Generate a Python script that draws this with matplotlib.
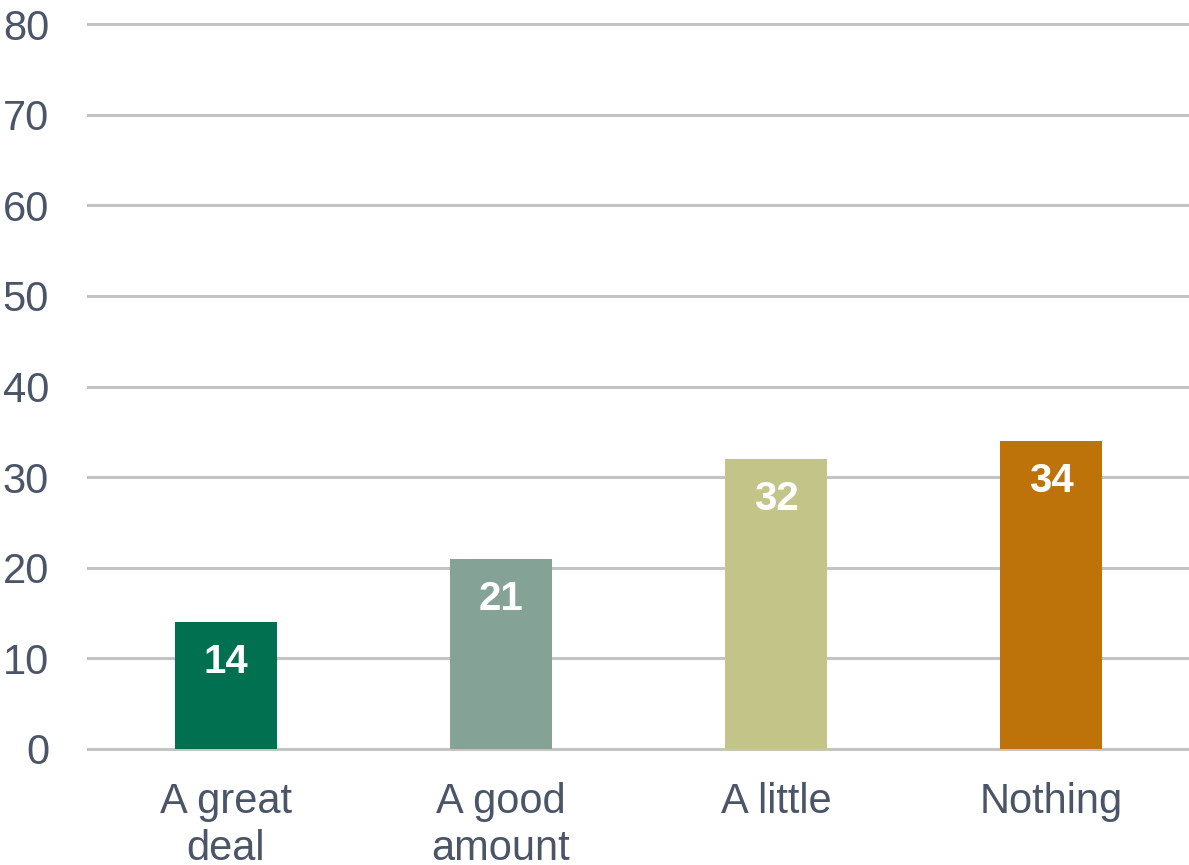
import matplotlib
matplotlib.use("Agg")
import matplotlib.pyplot as plt

categories = ["A great\ndeal", "A good\namount", "A little", "Nothing"]
values = [14, 21, 32, 34]
colors = ["#007050", "#85A296", "#C3C487", "#BE730A"]
yticks = [0, 10, 20, 30, 40, 50, 60, 70, 80]

text_color = "#4A5568"
plt.rcParams['font.family'] = ['Liberation Sans', 'DejaVu Sans']

fig = plt.figure(figsize=(11.89, 8.65), dpi=100)
ax = fig.add_axes([88/1189, 116/865, 1 - 88/1189, (749-24)/865])

x = list(range(len(categories)))
bars = ax.bar(x, values, width=0.37, color=colors, zorder=3)
for xi, v in zip(x, values):
    ax.text(xi, v - 4.4, str(v), ha='center', va='center', color='white',
            fontsize=29, fontweight='bold', zorder=4)

ax.set_xlim(-0.5, 3.5)
ax.set_ylim(0, 80)
ax.set_yticks(yticks)
ax.set_yticklabels([str(t) for t in yticks])
ax.set_xticks(x)
ax.set_xticklabels(categories, linespacing=1.22)
ax.yaxis.grid(True, color="#C4C4C4", linewidth=2.2, zorder=0)
for gl in ax.yaxis.get_gridlines():
    gl.set_clip_on(False)
ax.set_axisbelow(True)
ax.tick_params(axis='y', length=0, pad=28, labelsize=30, labelcolor=text_color)
ax.tick_params(axis='x', length=0, pad=24, labelsize=30, labelcolor=text_color)
for s in ax.spines.values():
    s.set_visible(False)

fig.savefig("out.png", dpi=100)
